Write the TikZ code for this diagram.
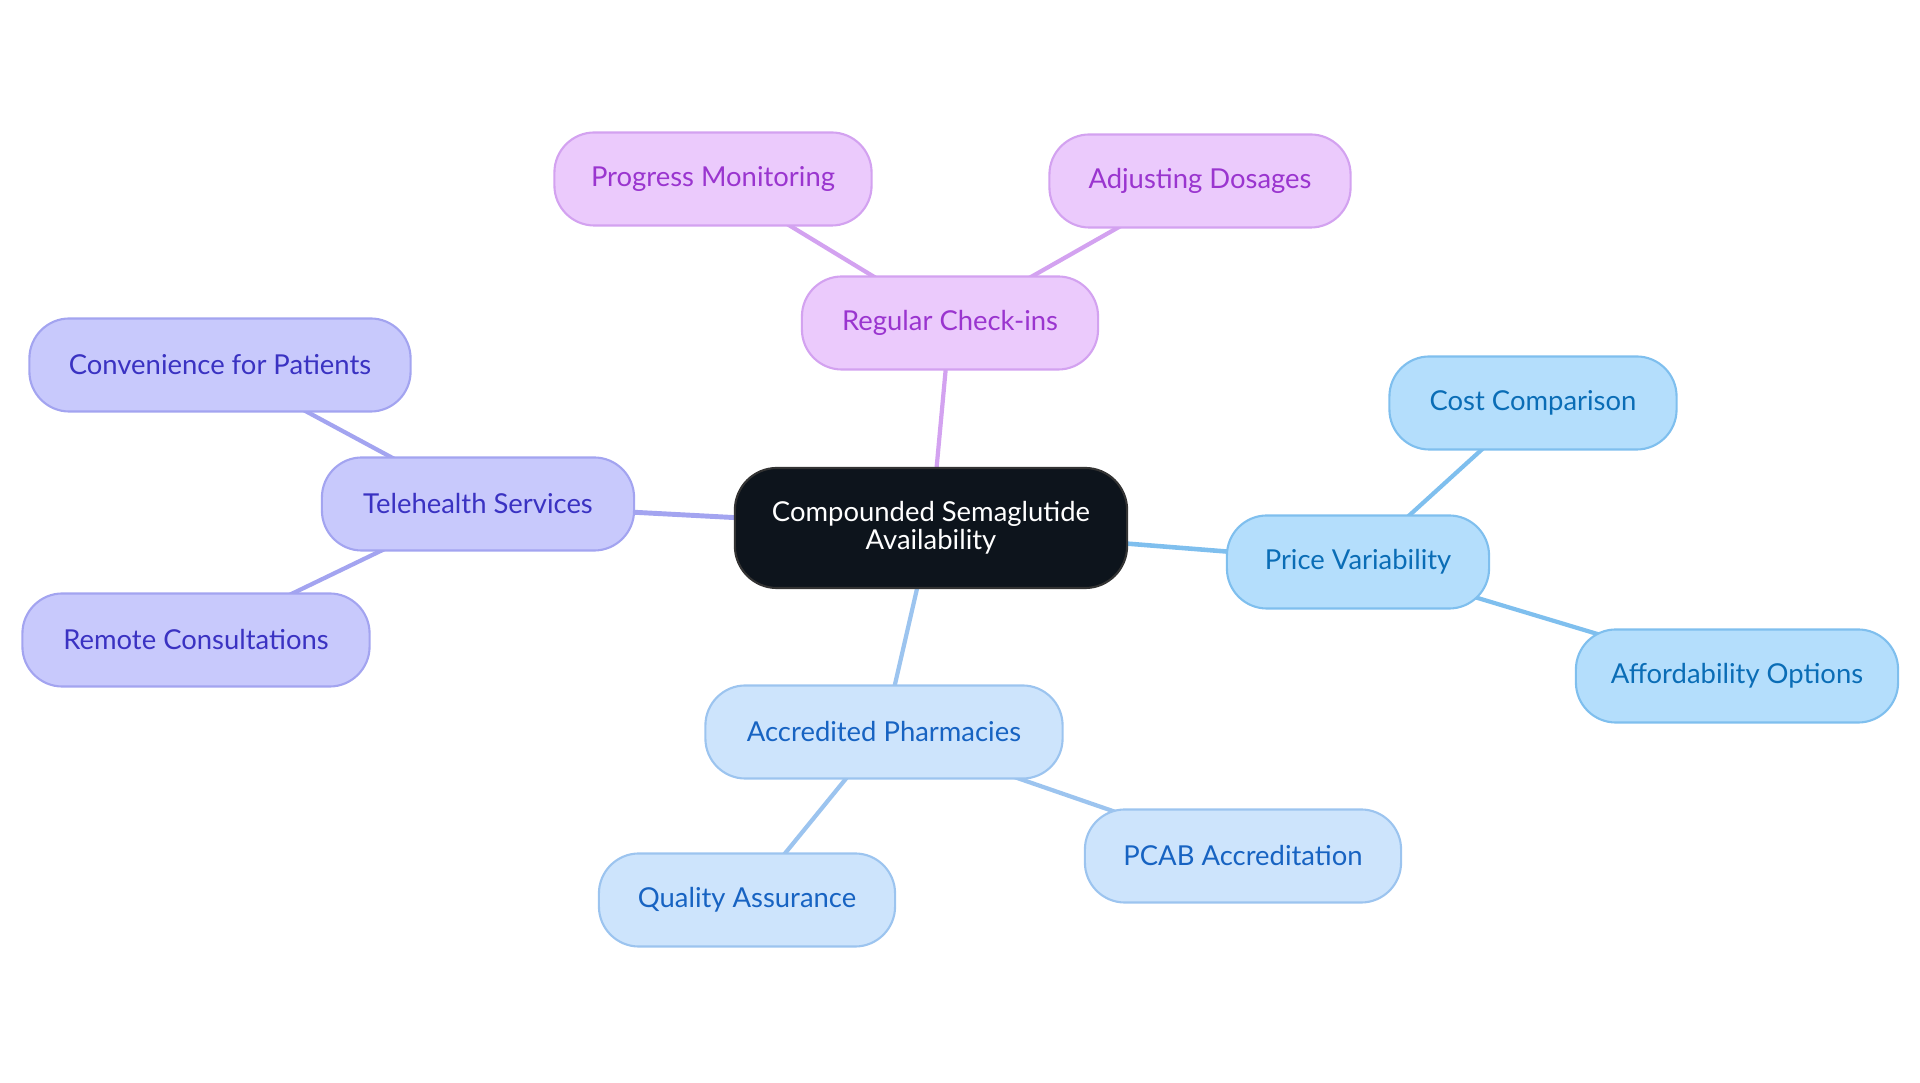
\documentclass[tikz,border=0pt]{standalone}
\usepackage{fontspec}
\usetikzlibrary{backgrounds}
\setmainfont{Lato}
\definecolor{darkfill}{HTML}{0D141C}
\definecolor{pinkfill}{HTML}{EBCAFC}
\definecolor{pinkline}{HTML}{D3A2F0}
\definecolor{pinktext}{HTML}{9A35CF}
\definecolor{lavfill}{HTML}{C8C9FC}
\definecolor{lavline}{HTML}{A3A4F0}
\definecolor{lavtext}{HTML}{3A32C2}
\definecolor{skyfill}{HTML}{B4DEFC}
\definecolor{skyline}{HTML}{7FBFEE}
\definecolor{skytext}{HTML}{0A6DB6}
\definecolor{palefill}{HTML}{CDE4FC}
\definecolor{paleline}{HTML}{9CC4EF}
\definecolor{paletext}{HTML}{1763C2}
\begin{document}
\begin{tikzpicture}[x=0.01cm, y=-0.01cm, every node/.style={draw, rounded corners=0.4cm, line width=0.6pt, inner sep=0pt, minimum height=0.93cm, align=center, font=\fontsize{7.8}{8}\selectfont},
	pinknode/.style={fill=pinkfill, draw=pinkline, text=pinktext},
	lavnode/.style={fill=lavfill, draw=lavline, text=lavtext},
	skynode/.style={fill=skyfill, draw=skyline, text=skytext},
	palenode/.style={fill=palefill, draw=paleline, text=paletext}]
				\useasboundingbox (0,0) rectangle (1920,1083);
				\node[fill=darkfill, draw=black!80, text=white, rounded corners=0.42cm, minimum width=3.92cm, minimum height=1.2cm, font=\fontsize{7.8}{8}\selectfont] (semaglutide) at (931,528) {Compounded Semaglutide\\Availability};
				\node[pinknode, minimum width=2.96cm] (checkins) at (950,323) {Regular Check-ins};
				\node[pinknode, minimum width=3.17cm] (progress) at (713,179) {Progress Monitoring};
				\node[pinknode, minimum width=3.01cm] (dosages) at (1200,181) {Adjusting Dosages};
				\node[lavnode, minimum width=3.12cm] (telehealth) at (478,504) {Telehealth Services};
				\node[lavnode, minimum width=3.81cm] (convenience) at (220,365) {Convenience for Patients};
				\node[lavnode, minimum width=3.47cm] (remote) at (196,640) {Remote Consultations};
				\node[skynode, minimum width=2.62cm] (price) at (1358,562) {Price Variability};
				\node[skynode, minimum width=2.87cm] (cost) at (1533,403) {Cost Comparison};
				\node[skynode, minimum width=3.22cm] (afford) at (1737,676) {Affordability Options};
				\node[palenode, minimum width=3.57cm] (pharmacies) at (884,732) {Accredited Pharmacies};
				\node[palenode, minimum width=2.96cm] (quality) at (747,900) {Quality Assurance};
				\node[palenode, minimum width=3.16cm] (pcab) at (1243,856) {PCAB Accreditation};
				\begin{scope}[on background layer]
				\draw[pinkline, line width=1.2pt] (semaglutide.center) -- (checkins.center);
				\draw[pinkline, line width=1.2pt] (checkins.center) -- (progress.center);
				\draw[pinkline, line width=1.2pt] (checkins.center) -- (dosages.center);
				\draw[lavline, line width=1.4pt] (semaglutide.center) -- (telehealth.center);
				\draw[lavline, line width=1.2pt] (telehealth.center) -- (convenience.center);
				\draw[lavline, line width=1.2pt] (telehealth.center) -- (remote.center);
				\draw[skyline, line width=1.3pt] (semaglutide.center) -- (price.center);
				\draw[skyline, line width=1.2pt] (price.center) -- (cost.center);
				\draw[skyline, line width=1.2pt] (price.center) -- (afford.center);
				\draw[paleline, line width=1.2pt] (semaglutide.center) -- (pharmacies.center);
				\draw[paleline, line width=1.2pt] (pharmacies.center) -- (quality.center);
				\draw[paleline, line width=1.2pt] (pharmacies.center) -- (pcab.center);
				\end{scope}
			\end{tikzpicture}
\end{document}
